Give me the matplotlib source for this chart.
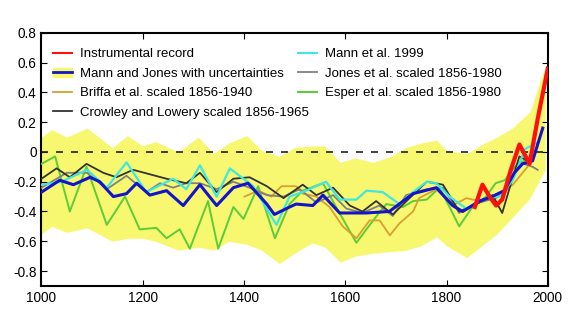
import matplotlib
matplotlib.use("Agg")
import matplotlib.pyplot as plt
from matplotlib.patches import Patch
from matplotlib.lines import Line2D
from matplotlib.ticker import FuncFormatter

plt.rcParams['font.family'] = ['Liberation Sans', 'DejaVu Sans']
plt.rcParams['axes.unicode_minus'] = False

# uncertainty band (Mann and Jones)
band_years = [1000, 1020, 1050, 1090, 1140, 1170, 1200, 1225, 1270, 1310, 1340, 1370, 1405, 1435,
              1470, 1500, 1535, 1560, 1590, 1620, 1655, 1690, 1720, 1750, 1780, 1800, 1840, 1870,
              1900, 1930, 1965, 1985, 1995]
band_upper = [0.10, 0.15, 0.10, 0.16, 0.03, 0.11, 0.04, 0.07, 0.00, 0.10, -0.01, 0.06, 0.11, 0.01,
              -0.03, 0.03, 0.04, 0.04, -0.07, -0.04, -0.07, -0.03, 0.03, 0.06, 0.08, 0.01, -0.01, 0.05,
              0.10, 0.16, 0.27, 0.48, 0.56]
band_lower = [-0.55, -0.50, -0.54, -0.51, -0.60, -0.58, -0.58, -0.60, -0.66, -0.64, -0.66, -0.60, -0.62, -0.66,
              -0.75, -0.68, -0.61, -0.64, -0.74, -0.70, -0.68, -0.67, -0.66, -0.63, -0.57, -0.63, -0.71, -0.63,
              -0.55, -0.44, -0.31, -0.18, -0.12]

mj_years = [1000, 1036, 1063, 1096, 1115, 1142, 1168, 1188, 1214, 1247, 1280, 1313, 1346, 1379, 1408,
            1445, 1460, 1490, 1503, 1536, 1556, 1589, 1641, 1687, 1734, 1780, 1812, 1832, 1865, 1890,
            1914, 1934, 1950, 1970, 1990]
mj_vals = [-0.27, -0.19, -0.22, -0.17, -0.20, -0.30, -0.28, -0.21, -0.29, -0.26, -0.36, -0.22, -0.36, -0.24, -0.21,
           -0.35, -0.42, -0.37, -0.35, -0.36, -0.29, -0.41, -0.41, -0.40, -0.28, -0.24, -0.36, -0.40, -0.33, -0.30,
           -0.26, -0.14, -0.08, -0.06, 0.16]

instr_years = [1856, 1871, 1885, 1898, 1910, 1927, 1944, 1964, 1980, 2000]
instr_vals = [-0.37, -0.22, -0.30, -0.36, -0.32, -0.12, 0.05, -0.08, 0.22, 0.56]

mann99_years = [1000, 1040, 1090, 1129, 1168, 1207, 1260, 1286, 1313, 1346, 1372, 1418, 1464, 1490, 1523,
                1562, 1589, 1622, 1642, 1674, 1707, 1734, 1761, 1780, 1806, 1839, 1878, 1904, 1931, 1955, 1978]
mann99_vals = [-0.22, -0.20, -0.12, -0.24, -0.07, -0.27, -0.18, -0.25, -0.09, -0.30, -0.11, -0.23, -0.49, -0.30, -0.26,
               -0.20, -0.32, -0.32, -0.26, -0.27, -0.35, -0.27, -0.20, -0.21, -0.30, -0.38, -0.31, -0.30, -0.19, 0.02, 0.06]

esper_years = [1000, 1027, 1056, 1089, 1129, 1165, 1194, 1227, 1247, 1273, 1293, 1329, 1349, 1379, 1399, 1428,
               1461, 1490, 1516, 1556, 1582, 1622, 1655, 1681, 1714, 1734, 1761, 1786, 1806, 1825, 1851, 1878,
               1897, 1915, 1940, 1960]
esper_vals = [-0.08, -0.03, -0.40, -0.10, -0.49, -0.30, -0.52, -0.51, -0.58, -0.52, -0.65, -0.33, -0.65, -0.37, -0.45, -0.23,
              -0.58, -0.35, -0.26, -0.21, -0.37, -0.61, -0.46, -0.35, -0.37, -0.33, -0.32, -0.24, -0.37, -0.50, -0.37, -0.30,
              -0.21, -0.19, -0.08, -0.05]

crowley_years = [1000, 1030, 1056, 1089, 1122, 1148, 1181, 1214, 1247, 1286, 1313, 1346, 1379, 1411, 1445, 1478,
                 1516, 1543, 1576, 1609, 1634, 1661, 1694, 1727, 1761, 1793, 1825, 1865, 1891, 1910, 1931, 1944, 1965]
crowley_vals = [-0.18, -0.11, -0.17, -0.08, -0.14, -0.17, -0.12, -0.15, -0.18, -0.21, -0.14, -0.27, -0.18, -0.17, -0.23, -0.31,
                -0.22, -0.29, -0.24, -0.36, -0.40, -0.33, -0.42, -0.31, -0.20, -0.22, -0.40, -0.34, -0.29, -0.41, -0.17, -0.03, -0.07]

jones_years = [1000, 1050, 1090, 1129, 1168, 1207, 1234, 1260, 1286, 1313, 1346, 1379, 1411, 1445, 1478, 1510,
               1543, 1576, 1602, 1634, 1667, 1694, 1720, 1761, 1793, 1825, 1865, 1897, 1917, 1944, 1970, 1980]
jones_vals = [-0.24, -0.14, -0.14, -0.25, -0.16, -0.27, -0.21, -0.24, -0.21, -0.21, -0.25, -0.20, -0.24, -0.29, -0.30, -0.25,
              -0.34, -0.29, -0.38, -0.41, -0.36, -0.43, -0.29, -0.25, -0.24, -0.41, -0.34, -0.31, -0.27, -0.07, -0.10, -0.12]

briffa_years = [1401, 1428, 1454, 1474, 1503, 1516, 1543, 1569, 1595, 1622, 1648, 1668, 1688, 1707, 1734, 1746,
                1780, 1812, 1839, 1865, 1898, 1931, 1960]
briffa_vals = [-0.30, -0.26, -0.30, -0.23, -0.23, -0.28, -0.30, -0.37, -0.50, -0.58, -0.46, -0.46, -0.56, -0.48, -0.40, -0.31,
               -0.25, -0.36, -0.31, -0.33, -0.30, -0.22, -0.10]

c_band = '#f8f870'
c_blue = '#1414c8'
c_red = '#ff1010'
c_cyan = '#3ee8e0'
c_green = '#5ccc38'
c_orange = '#d8a030'
c_black = '#333333'
c_gray = '#808080'

fig = plt.figure(figsize=(5.76, 3.22), dpi=100)
ax = fig.add_axes([0.072, 0.112, 0.879, 0.786])

ax.fill_between(band_years, band_lower, band_upper, color=c_band, lw=0, zorder=1)
ax.axhline(0, color='#222222', lw=1.2, ls=(0, (4.2, 4.8)), zorder=2)
ax.plot(esper_years, esper_vals, color=c_green, lw=1.4, zorder=3)
ax.plot(briffa_years, briffa_vals, color=c_orange, lw=1.3, zorder=3)
ax.plot(jones_years, jones_vals, color=c_gray, lw=1.3, zorder=3)
ax.plot(crowley_years, crowley_vals, color=c_black, lw=1.3, zorder=4)
ax.plot(mann99_years, mann99_vals, color=c_cyan, lw=1.6, zorder=4)
ax.plot(mj_years, mj_vals, color=c_blue, lw=2.2, zorder=5)
ax.plot(instr_years, instr_vals, color=c_red, lw=3, zorder=6)

ax.set_xlim(1000, 2000)
ax.set_ylim(-0.9, 0.8)
ax.set_xticks(range(1000, 2001, 200))
ax.set_yticks([-0.8, -0.6, -0.4, -0.2, 0, 0.2, 0.4, 0.6, 0.8])
ax.yaxis.set_major_formatter(FuncFormatter(lambda v, p: '%g' % round(v, 1)))
ax.tick_params(direction='in', length=4, width=0.8, top=True, right=True, labelsize=9.8)
for s in ax.spines.values():
    s.set_linewidth(1.5)

handles1 = [
    Line2D([], [], color=c_red, lw=1.5),
    (Patch(color=c_band), Line2D([], [], color=c_blue, lw=2)),
    Line2D([], [], color=c_orange, lw=1.3),
    Line2D([], [], color=c_black, lw=1.3),
]
labels1 = ['Instrumental record', 'Mann and Jones with uncertainties',
           'Briffa et al. scaled 1856-1940', 'Crowley and Lowery scaled 1856-1965']
handles2 = [
    Line2D([], [], color=c_cyan, lw=1.5),
    Line2D([], [], color=c_gray, lw=1.3),
    Line2D([], [], color=c_green, lw=1.5),
]
labels2 = ['Mann et al. 1999', 'Jones et al. scaled 1856-1980', 'Esper et al. scaled 1856-1980']

leg_kw = dict(frameon=False, loc='upper left', fontsize=9.5, handlelength=1.45,
              handletextpad=0.6, labelspacing=0.55, borderaxespad=0, borderpad=0)
leg1 = ax.legend(handles1, labels1, bbox_to_anchor=(0.023, 0.94), **leg_kw)
ax.add_artist(leg1)
ax.legend(handles2, labels2, bbox_to_anchor=(0.506, 0.94), **leg_kw)

fig.savefig('out.png', dpi=100)
